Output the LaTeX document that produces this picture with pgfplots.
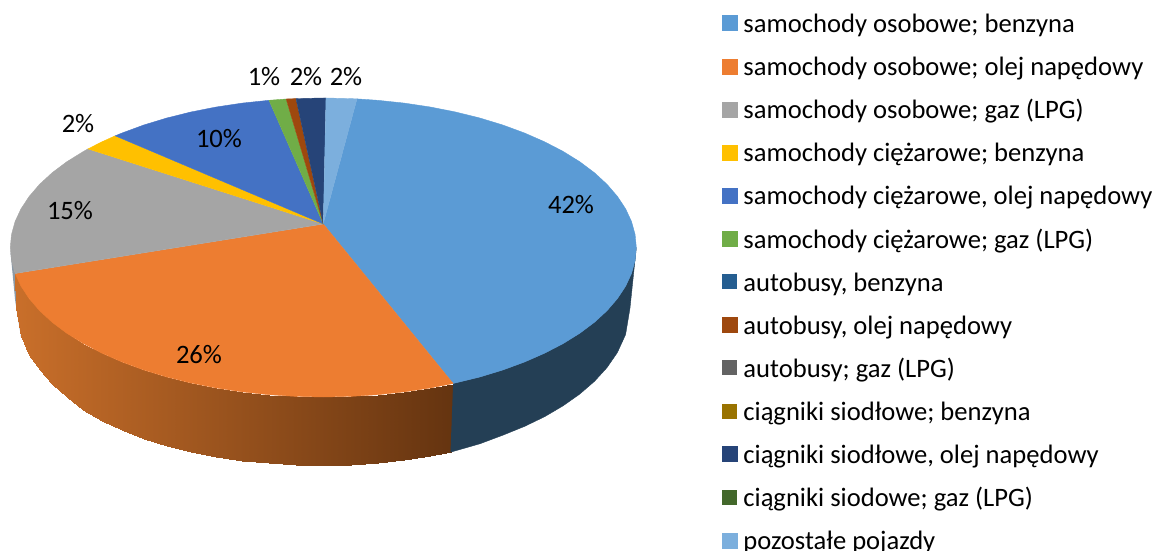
\documentclass[border=0pt]{standalone}
\usepackage{fontspec}
\setmainfont{Carlito}
\usepackage{pgfplots}
\pgfplotsset{compat=1.18}

\definecolor{c1}{HTML}{5B9BD5}
\definecolor{c2}{HTML}{ED7D31}
\definecolor{c3}{HTML}{A5A5A5}
\definecolor{c4}{HTML}{FFC000}
\definecolor{c5}{HTML}{4472C4}
\definecolor{c6}{HTML}{70AD47}
\definecolor{c7}{HTML}{255E91}
\definecolor{c8}{HTML}{9E480E}
\definecolor{c9}{HTML}{636363}
\definecolor{c10}{HTML}{997300}
\definecolor{c11}{HTML}{264478}
\definecolor{c12}{HTML}{43682B}
\definecolor{c13}{HTML}{7CAFDD}
\definecolor{sidedark}{HTML}{243F55}
\definecolor{sidegray}{HTML}{8C9AA6}

\newcommand{\lab}{\fontsize{13.3pt}{15pt}\selectfont}

\begin{document}
\begin{tikzpicture}
\useasboundingbox (0,0) rectangle (578.5pt,275.5pt);
\begin{axis}[
    at={(0,0)}, anchor=south west,
    scale only axis,
    width=578.5pt, height=275.5pt,
    xmin=0, xmax=1157,
    ymin=0, ymax=551,
    y dir=reverse,
    hide axis,
    clip=false,
    colormap={sideorange}{rgb255=(201,111,42) rgb255=(101,52,16)},
    point meta min=15, point meta max=453,
    legend image code/.code={\fill[#1] (0pt,-2.8pt) rectangle (7.5pt,4.7pt); \path (10.5pt,0pt);},
    legend cell align=left,
    legend style={
        at={(axis cs:722,3.5)}, anchor=north west,
        draw=none, fill=none, inner sep=0pt, outer sep=0pt,
        font=\lab, row sep=0pt,
        nodes={inner sep=0pt, text height=14.5pt, text depth=7.05pt},
    },
]
% side walls
\addplot[fill=sidegray, draw=none, forget plot] coordinates {
    (10.5,252) (15.1,273.5) (20,330) (21,337) (15.1,300)
};
\addplot[surf, shader=interp, mesh/rows=2, point meta=x, forget plot] coordinates {
    (15.1,273.5) (21.0,286.2) (29.2,298.6) (39.6,310.7) (52.2,322.3) (66.9,333.3)
    (83.5,343.6) (102.0,353.2) (122.1,362.0) (143.8,370.0) (166.8,377.0) (191.0,383.0)
    (216.3,388.0) (242.3,391.9) (269.0,394.7) (296.0,396.4) (323.3,397.0) (350.6,396.4)
    (377.6,394.7) (404.3,391.9) (430.3,388.0) (453.1,383.5)

    (16.0,308.0) (21.0,336.2) (29.2,354.5) (39.6,370.0) (52.2,384.0) (66.9,397.0)
    (83.5,409.5) (102.0,420.5) (122.1,430.0) (143.8,438.5) (166.8,446.0) (191.0,452.0)
    (216.3,457.0) (242.3,460.5) (269.0,463.0) (296.0,464.6) (323.3,465.2) (350.6,465.0)
    (377.6,463.2) (404.3,460.4) (430.3,456.2) (450.5,452.2)
};
\addplot[fill=sidedark, draw=sidedark, line width=0.2pt, forget plot] coordinates {
    (453.1,383.5) (479.8,377.0) (502.8,370.0) (524.5,362.0) (544.6,353.2) (563.1,343.6)
    (579.7,333.3) (594.4,322.3) (607.0,310.7) (617.4,298.6) (625.6,286.2) (631.5,273.5)
    (635.1,260.5) (636.3,247.5) (630.0,308.0) (625.6,334.5) (617.4,352.5) (607.0,367.6)
    (594.4,381.4) (579.7,394.1) (563.1,405.8) (544.6,416.7) (524.5,426.4) (502.8,435.2)
    (479.8,443.8) (450.5,452.2)
};
% top face, one series per slice
\addplot[fill=c1, draw=c1, line width=0.2pt] coordinates {
    (323.3,224) (357.1,98.9) (377.6,100.3) (404.3,103.1) (430.3,107.0) (455.6,112.0)
    (479.8,118.0) (502.8,125.0) (524.5,133.0) (544.6,141.8) (563.1,151.4) (579.7,161.7)
    (594.4,172.7) (607.0,184.3) (617.4,196.4) (625.6,208.8) (631.5,221.5) (635.1,234.5)
    (636.3,247.5) (635.1,260.5) (631.5,273.5) (625.6,286.2) (617.4,298.6) (607.0,310.7)
    (594.4,322.3) (579.7,333.3) (563.1,343.6) (544.6,353.2) (524.5,362.0) (502.8,370.0)
    (479.8,377.0) (453.1,383.5)
};
\addlegendentry{samochody osobowe; benzyna}
\addplot[fill=c2, draw=c2, line width=0.2pt] coordinates {
    (323.3,224) (453.1,383.5) (430.3,388.0) (404.3,391.9) (377.6,394.7) (350.6,396.4)
    (323.3,397.0) (296.0,396.4) (269.0,394.7) (242.3,391.9) (216.3,388.0) (191.0,383.0)
    (166.8,377.0) (143.8,370.0) (122.1,362.0) (102.0,353.2) (83.5,343.6) (66.9,333.3)
    (52.2,322.3) (39.6,310.7) (29.2,298.6) (21.0,286.2) (15.1,273.5)
};
\addlegendentry{samochody osobowe; olej napędowy}
\addplot[fill=c3, draw=c3, line width=0.2pt] coordinates {
    (323.3,224) (15.1,273.5) (11.5,260.5) (10.3,247.5) (11.5,234.5) (15.1,221.5)
    (21.0,208.8) (29.2,196.4) (39.6,184.3) (52.2,172.7) (66.9,161.7) (83.5,151.4) (88.0,148.9)
};
\addlegendentry{samochody osobowe; gaz (LPG)}
\addplot[fill=c4, draw=c4, line width=0.2pt] coordinates {
    (323.3,224) (88.0,148.9) (102.0,141.8) (115.2,135.8)
};
\addlegendentry{samochody ciężarowe; benzyna}
\addplot[fill=c5, draw=c5, line width=0.2pt] coordinates {
    (323.3,224) (115.2,135.8) (122.1,133.0) (143.8,125.0) (166.8,118.0) (191.0,112.0)
    (216.3,107.0) (242.3,103.1) (269.0,100.3)
};
\addlegendentry{samochody ciężarowe, olej napędowy}
\addplot[fill=c6, draw=c6, line width=0.2pt] coordinates {
    (323.3,224) (269.0,100.3) (286.2,99.0)
};
\addlegendentry{samochody ciężarowe; gaz (LPG)}
\addplot[fill=c7, draw=none] coordinates {(323.3,224)};
\addlegendentry{autobusy, benzyna}
\addplot[fill=c8, draw=c8, line width=0.2pt] coordinates {
    (323.3,224) (286.2,99.0) (296.0,98.6)
};
\addlegendentry{autobusy, olej napędowy}
\addplot[fill=c9, draw=none] coordinates {(323.3,224)};
\addlegendentry{autobusy; gaz (LPG)}
\addplot[fill=c10, draw=none] coordinates {(323.3,224)};
\addlegendentry{ciągniki siodłowe; benzyna}
\addplot[fill=c11, draw=c11, line width=0.2pt] coordinates {
    (323.3,224) (296.0,98.6) (323.3,98.0) (326.0,98.0)
};
\addlegendentry{ciągniki siodłowe, olej napędowy}
\addplot[fill=c12, draw=none] coordinates {(323.3,224)};
\addlegendentry{ciągniki siodowe; gaz (LPG)}
\addplot[fill=c13, draw=c13, line width=0.2pt] coordinates {
    (323.3,224) (326.0,98.0) (350.6,98.6) (357.1,98.9)
};
\addlegendentry{pozostałe pojazdy}
% data labels
\node[font=\lab] at (axis cs:571,205) {42\%};
\node[font=\lab] at (axis cs:199,355) {26\%};
\node[font=\lab] at (axis cs:70,211) {15\%};
\node[font=\lab] at (axis cs:219,139) {10\%};
\node[font=\lab] at (axis cs:78,124) {2\%};
\node[font=\lab] at (axis cs:264,77) {1\%};
\node[font=\lab] at (axis cs:306,77) {2\%};
\node[font=\lab] at (axis cs:346,77) {2\%};
\end{axis}
\end{tikzpicture}
\end{document}
